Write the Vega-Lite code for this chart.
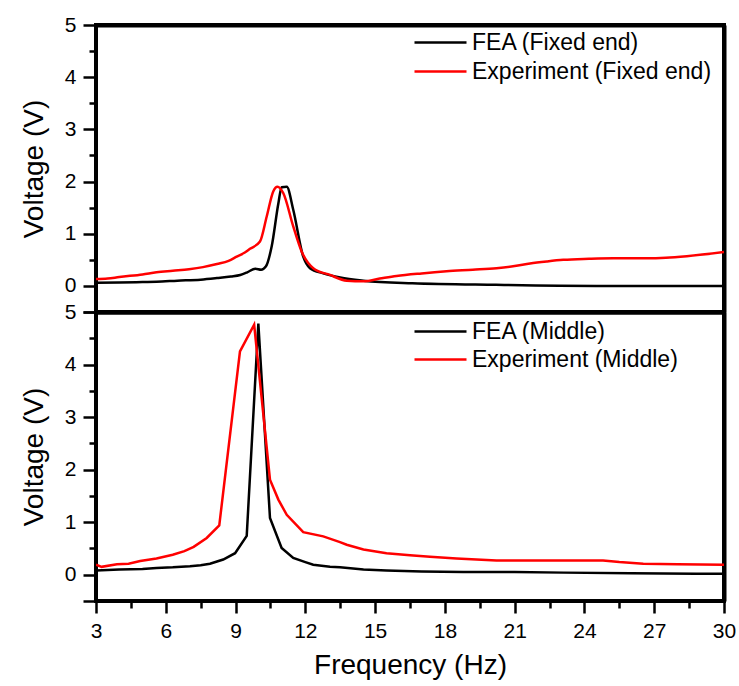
{
  "$schema": "https://vega.github.io/schema/vega-lite/v6.json",
  "background": "white",
  "padding": {"left": 18, "top": 12, "right": 10, "bottom": 5},
  "spacing": 0,
  "bounds": "flush",
  "config": {
    "font": "Liberation Sans",
    "view": {"stroke": "#000000", "strokeWidth": 4},
    "axis": {
      "labelFont": "Liberation Sans",
      "labelFontSize": 21,
      "labelColor": "black",
      "titleFont": "Liberation Sans",
      "titleFontSize": 28,
      "titleFontWeight": "normal",
      "titleColor": "black",
      "domainColor": "black",
      "domainWidth": 2.5,
      "tickColor": "black",
      "tickWidth": 2.5,
      "grid": false,
      "labelPadding": 7,
      "labelFlush": false
    },
    "legend": {
      "labelFont": "Liberation Sans",
      "labelFontSize": 23,
      "labelColor": "black",
      "labelLimit": 400
    },
    "line": {"strokeWidth": 2.5}
  },
  "datasets": {
    "fixed": [
      {"series": "FEA (Fixed end)", "f": 3.0, "v": 0.06},
      {"series": "FEA (Fixed end)", "f": 4.0, "v": 0.065},
      {"series": "FEA (Fixed end)", "f": 5.0, "v": 0.075},
      {"series": "FEA (Fixed end)", "f": 5.6, "v": 0.08},
      {"series": "FEA (Fixed end)", "f": 6.5, "v": 0.10},
      {"series": "FEA (Fixed end)", "f": 7.5, "v": 0.12},
      {"series": "FEA (Fixed end)", "f": 8.2, "v": 0.15},
      {"series": "FEA (Fixed end)", "f": 8.8, "v": 0.18},
      {"series": "FEA (Fixed end)", "f": 9.2, "v": 0.21},
      {"series": "FEA (Fixed end)", "f": 9.5, "v": 0.26},
      {"series": "FEA (Fixed end)", "f": 9.85, "v": 0.33},
      {"series": "FEA (Fixed end)", "f": 10.1, "v": 0.31},
      {"series": "FEA (Fixed end)", "f": 10.3, "v": 0.37},
      {"series": "FEA (Fixed end)", "f": 10.55, "v": 0.75},
      {"series": "FEA (Fixed end)", "f": 10.84, "v": 1.58},
      {"series": "FEA (Fixed end)", "f": 10.98, "v": 1.89},
      {"series": "FEA (Fixed end)", "f": 11.2, "v": 1.9},
      {"series": "FEA (Fixed end)", "f": 11.48, "v": 1.46},
      {"series": "FEA (Fixed end)", "f": 11.91, "v": 0.56},
      {"series": "FEA (Fixed end)", "f": 12.2, "v": 0.34},
      {"series": "FEA (Fixed end)", "f": 12.77, "v": 0.24},
      {"series": "FEA (Fixed end)", "f": 13.5, "v": 0.16},
      {"series": "FEA (Fixed end)", "f": 14.5, "v": 0.1},
      {"series": "FEA (Fixed end)", "f": 16.6, "v": 0.05},
      {"series": "FEA (Fixed end)", "f": 20.2, "v": 0.02},
      {"series": "FEA (Fixed end)", "f": 24.5, "v": 0.0},
      {"series": "FEA (Fixed end)", "f": 30.0, "v": 0.0},
      {"series": "Experiment (Fixed end)", "f": 3.0, "v": 0.13},
      {"series": "Experiment (Fixed end)", "f": 3.5, "v": 0.14},
      {"series": "Experiment (Fixed end)", "f": 4.0, "v": 0.17},
      {"series": "Experiment (Fixed end)", "f": 5.0, "v": 0.22},
      {"series": "Experiment (Fixed end)", "f": 5.6, "v": 0.26},
      {"series": "Experiment (Fixed end)", "f": 6.3, "v": 0.29},
      {"series": "Experiment (Fixed end)", "f": 7.0, "v": 0.32},
      {"series": "Experiment (Fixed end)", "f": 7.6, "v": 0.36},
      {"series": "Experiment (Fixed end)", "f": 8.2, "v": 0.42},
      {"series": "Experiment (Fixed end)", "f": 8.7, "v": 0.48},
      {"series": "Experiment (Fixed end)", "f": 9.05, "v": 0.56},
      {"series": "Experiment (Fixed end)", "f": 9.4, "v": 0.64},
      {"series": "Experiment (Fixed end)", "f": 9.62, "v": 0.71},
      {"series": "Experiment (Fixed end)", "f": 10.05, "v": 0.85},
      {"series": "Experiment (Fixed end)", "f": 10.34, "v": 1.33},
      {"series": "Experiment (Fixed end)", "f": 10.62, "v": 1.81},
      {"series": "Experiment (Fixed end)", "f": 10.8, "v": 1.9},
      {"series": "Experiment (Fixed end)", "f": 11.05, "v": 1.78},
      {"series": "Experiment (Fixed end)", "f": 11.48, "v": 1.14},
      {"series": "Experiment (Fixed end)", "f": 11.84, "v": 0.66},
      {"series": "Experiment (Fixed end)", "f": 12.34, "v": 0.34},
      {"series": "Experiment (Fixed end)", "f": 13.06, "v": 0.21},
      {"series": "Experiment (Fixed end)", "f": 13.78, "v": 0.1},
      {"series": "Experiment (Fixed end)", "f": 14.5, "v": 0.09},
      {"series": "Experiment (Fixed end)", "f": 15.2, "v": 0.14},
      {"series": "Experiment (Fixed end)", "f": 15.92, "v": 0.19},
      {"series": "Experiment (Fixed end)", "f": 17.0, "v": 0.24},
      {"series": "Experiment (Fixed end)", "f": 18.07, "v": 0.28},
      {"series": "Experiment (Fixed end)", "f": 19.2, "v": 0.31},
      {"series": "Experiment (Fixed end)", "f": 20.22, "v": 0.34},
      {"series": "Experiment (Fixed end)", "f": 21.0, "v": 0.38},
      {"series": "Experiment (Fixed end)", "f": 21.66, "v": 0.43},
      {"series": "Experiment (Fixed end)", "f": 22.4, "v": 0.47},
      {"series": "Experiment (Fixed end)", "f": 23.09, "v": 0.5},
      {"series": "Experiment (Fixed end)", "f": 24.2, "v": 0.52},
      {"series": "Experiment (Fixed end)", "f": 25.24, "v": 0.53},
      {"series": "Experiment (Fixed end)", "f": 26.67, "v": 0.53},
      {"series": "Experiment (Fixed end)", "f": 27.5, "v": 0.54},
      {"series": "Experiment (Fixed end)", "f": 28.4, "v": 0.57},
      {"series": "Experiment (Fixed end)", "f": 30.0, "v": 0.65}
    ],
    "middle": [
      {"series": "FEA (Middle)", "f": 3.0, "v": 0.08},
      {"series": "FEA (Middle)", "f": 4.0, "v": 0.1},
      {"series": "FEA (Middle)", "f": 5.0, "v": 0.11},
      {"series": "FEA (Middle)", "f": 5.6, "v": 0.13},
      {"series": "FEA (Middle)", "f": 6.3, "v": 0.14},
      {"series": "FEA (Middle)", "f": 7.04, "v": 0.16},
      {"series": "FEA (Middle)", "f": 7.5, "v": 0.18},
      {"series": "FEA (Middle)", "f": 7.9, "v": 0.21},
      {"series": "FEA (Middle)", "f": 8.47, "v": 0.29},
      {"series": "FEA (Middle)", "f": 8.98, "v": 0.41},
      {"series": "FEA (Middle)", "f": 9.48, "v": 0.74},
      {"series": "FEA (Middle)", "f": 9.98, "v": 4.78},
      {"series": "FEA (Middle)", "f": 10.48, "v": 1.08},
      {"series": "FEA (Middle)", "f": 10.98, "v": 0.51},
      {"series": "FEA (Middle)", "f": 11.48, "v": 0.32},
      {"series": "FEA (Middle)", "f": 12.0, "v": 0.24},
      {"series": "FEA (Middle)", "f": 12.34, "v": 0.19},
      {"series": "FEA (Middle)", "f": 13.06, "v": 0.15},
      {"series": "FEA (Middle)", "f": 13.49, "v": 0.14},
      {"series": "FEA (Middle)", "f": 14.5, "v": 0.1},
      {"series": "FEA (Middle)", "f": 15.49, "v": 0.08},
      {"series": "FEA (Middle)", "f": 17.0, "v": 0.06},
      {"series": "FEA (Middle)", "f": 18.79, "v": 0.05},
      {"series": "FEA (Middle)", "f": 21.0, "v": 0.05},
      {"series": "FEA (Middle)", "f": 23.1, "v": 0.04},
      {"series": "FEA (Middle)", "f": 26.0, "v": 0.03},
      {"series": "FEA (Middle)", "f": 28.8, "v": 0.02},
      {"series": "FEA (Middle)", "f": 30.0, "v": 0.02},
      {"series": "Experiment (Middle)", "f": 3.0, "v": 0.19},
      {"series": "Experiment (Middle)", "f": 3.24, "v": 0.15},
      {"series": "Experiment (Middle)", "f": 3.9, "v": 0.2},
      {"series": "Experiment (Middle)", "f": 4.4, "v": 0.21},
      {"series": "Experiment (Middle)", "f": 4.9, "v": 0.26},
      {"series": "Experiment (Middle)", "f": 5.6, "v": 0.31},
      {"series": "Experiment (Middle)", "f": 6.3, "v": 0.38},
      {"series": "Experiment (Middle)", "f": 6.8, "v": 0.45},
      {"series": "Experiment (Middle)", "f": 7.2, "v": 0.53},
      {"series": "Experiment (Middle)", "f": 7.76, "v": 0.7},
      {"series": "Experiment (Middle)", "f": 8.3, "v": 0.94},
      {"series": "Experiment (Middle)", "f": 9.19, "v": 4.25},
      {"series": "Experiment (Middle)", "f": 9.8, "v": 4.76},
      {"series": "Experiment (Middle)", "f": 10.48, "v": 1.81},
      {"series": "Experiment (Middle)", "f": 10.84, "v": 1.43},
      {"series": "Experiment (Middle)", "f": 11.2, "v": 1.14},
      {"series": "Experiment (Middle)", "f": 11.91, "v": 0.81},
      {"series": "Experiment (Middle)", "f": 12.77, "v": 0.73},
      {"series": "Experiment (Middle)", "f": 13.49, "v": 0.62},
      {"series": "Experiment (Middle)", "f": 13.78, "v": 0.57},
      {"series": "Experiment (Middle)", "f": 14.5, "v": 0.48},
      {"series": "Experiment (Middle)", "f": 15.49, "v": 0.41},
      {"series": "Experiment (Middle)", "f": 16.5, "v": 0.37},
      {"series": "Experiment (Middle)", "f": 17.36, "v": 0.34},
      {"series": "Experiment (Middle)", "f": 18.5, "v": 0.31},
      {"series": "Experiment (Middle)", "f": 20.22, "v": 0.27},
      {"series": "Experiment (Middle)", "f": 22.0, "v": 0.27},
      {"series": "Experiment (Middle)", "f": 24.8, "v": 0.27},
      {"series": "Experiment (Middle)", "f": 25.5, "v": 0.24},
      {"series": "Experiment (Middle)", "f": 26.53, "v": 0.21},
      {"series": "Experiment (Middle)", "f": 28.0, "v": 0.2},
      {"series": "Experiment (Middle)", "f": 30.0, "v": 0.19}
    ]
  },
  "vconcat": [
    {
      "width": 628,
      "height": 287,
      "data": {"name": "fixed"},
      "layer": [
        {
          "mark": {"type": "line", "interpolate": "monotone", "clip": true},
          "encoding": {
            "x": {"field": "f", "type": "quantitative", "scale": {"domain": [3, 30], "nice": false, "zero": false}, "axis": null},
            "y": {
              "field": "v", "type": "quantitative",
              "scale": {"domain": [-0.5, 5], "nice": false, "zero": false},
              "axis": {
                "orient": "left",
                "title": "Voltage (V)",
                "titlePadding": 16,
                "values": [-0.5, 0, 1, 2, 3, 4, 5],
                "labelExpr": "datum.value < 0 ? '' : datum.label",
                "tickSize": 13
              }
            },
            "color": {
              "field": "series", "type": "nominal",
              "scale": {"domain": ["FEA (Fixed end)", "Experiment (Fixed end)"], "range": ["#000000", "#ff0000"]},
              "legend": {"orient": "none", "legendX": 333, "legendY": 6, "title": null, "symbolType": "M-2.6,0H2.6", "symbolSize": 400, "symbolStrokeWidth": 3, "labelOffset": 20, "rowPadding": 5}
            }
          }
        },
        {
          "mark": {"type": "line", "opacity": 0},
          "encoding": {
            "x": {
              "field": "f", "type": "quantitative",
              "axis": {"orient": "top", "title": null, "ticks": false, "labels": false, "domain": true, "domainColor": "#000000", "domainWidth": 4}
            },
            "y": {
              "field": "v", "type": "quantitative",
              "axis": {"orient": "left", "title": null, "values": [0.5, 1.5, 2.5, 3.5, 4.5], "labels": false, "domain": false, "tickSize": 7}
            }
          }
        },
        {
          "mark": {"type": "line", "opacity": 0},
          "encoding": {
            "x": {
              "field": "f", "type": "quantitative",
              "axis": {"orient": "bottom", "title": null, "ticks": false, "labels": false, "domain": true, "domainColor": "#000000", "domainWidth": 4}
            },
            "y": {
              "field": "v", "type": "quantitative",
              "axis": {"orient": "right", "title": null, "ticks": false, "labels": false, "domain": true, "domainColor": "#000000", "domainWidth": 4}
            }
          }
        }
      ],
      "resolve": {"axis": {"x": "independent", "y": "independent"}}
    },
    {
      "width": 628,
      "height": 289,
      "data": {"name": "middle"},
      "layer": [
        {
          "mark": {"type": "line", "clip": true},
          "encoding": {
            "x": {
              "field": "f", "type": "quantitative",
              "scale": {"domain": [3, 30], "nice": false, "zero": false},
              "axis": {
                "orient": "bottom",
                "title": "Frequency (Hz)",
                "titlePadding": 10,
                "values": [3, 6, 9, 12, 15, 18, 21, 24, 27, 30],
                "tickSize": 12
              }
            },
            "y": {
              "field": "v", "type": "quantitative",
              "scale": {"domain": [-0.5, 5], "nice": false, "zero": false},
              "axis": {
                "orient": "left",
                "title": "Voltage (V)",
                "titlePadding": 16,
                "values": [-0.5, 0, 1, 2, 3, 4, 5],
                "labelExpr": "datum.value < 0 ? '' : datum.label",
                "tickSize": 13
              }
            },
            "color": {
              "field": "series", "type": "nominal",
              "scale": {"domain": ["FEA (Middle)", "Experiment (Middle)"], "range": ["#000000", "#ff0000"]},
              "legend": {"orient": "none", "legendX": 333, "legendY": 8, "title": null, "symbolType": "M-2.6,0H2.6", "symbolSize": 400, "symbolStrokeWidth": 3, "labelOffset": 20, "rowPadding": 4}
            }
          }
        },
        {
          "mark": {"type": "line", "opacity": 0},
          "encoding": {
            "x": {
              "field": "f", "type": "quantitative",
              "axis": {"orient": "bottom", "title": null, "values": [4.5, 7.5, 10.5, 13.5, 16.5, 19.5, 22.5, 25.5, 28.5], "labels": false, "domain": false, "tickSize": 7}
            },
            "y": {
              "field": "v", "type": "quantitative",
              "axis": {"orient": "left", "title": null, "values": [0.5, 1.5, 2.5, 3.5, 4.5], "labels": false, "domain": false, "tickSize": 7}
            }
          }
        },
        {
          "mark": {"type": "line", "opacity": 0},
          "encoding": {
            "x": {
              "field": "f", "type": "quantitative",
              "axis": {"orient": "top", "title": null, "ticks": false, "labels": false, "domain": true, "domainColor": "#000000", "domainWidth": 4}
            },
            "y": {
              "field": "v", "type": "quantitative",
              "axis": {"orient": "right", "title": null, "ticks": false, "labels": false, "domain": true, "domainColor": "#000000", "domainWidth": 4}
            }
          }
        }
      ],
      "resolve": {"axis": {"x": "independent", "y": "independent"}}
    }
  ],
  "resolve": {"scale": {"color": "independent"}, "legend": {"color": "independent"}}
}
